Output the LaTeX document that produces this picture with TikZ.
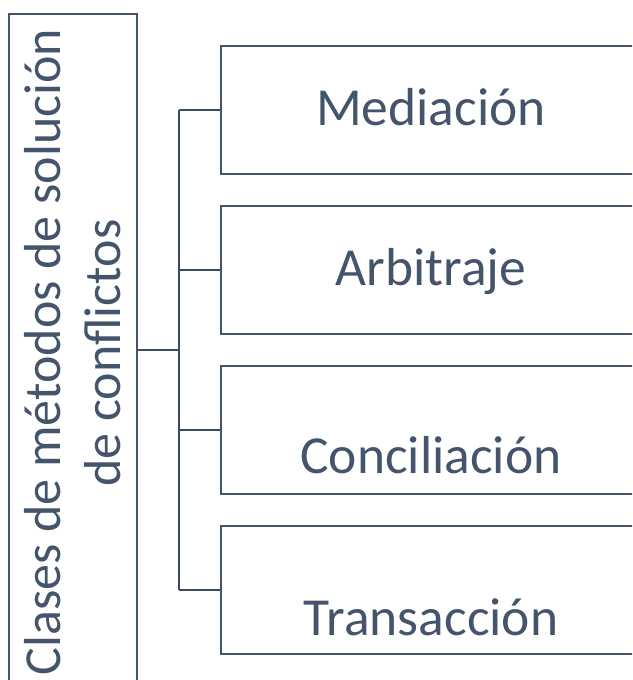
\documentclass[tikz,border=0pt]{standalone}
\usepackage{fontspec}
\setmainfont{Carlito}
\definecolor{slate}{HTML}{44546A}
\definecolor{slatedark}{HTML}{3A4A5F}
\tikzset{
  box/.style={draw=slate, line width=2pt, fill=none, inner sep=0pt},
  lbl/.style={text=slate, font=\fontsize{53.5}{60}\selectfont, inner sep=0pt, anchor=base},
  side/.style={text=slate, font=\fontsize{52}{60}\selectfont, inner sep=0pt, anchor=base, rotate=90},
  conn/.style={draw=slatedark, line width=2pt}
}
\begin{document}
\begin{tikzpicture}[x=1pt,y=-1pt]
\useasboundingbox (0,0) rectangle (632,680);
\clip (0,0) rectangle (632,680);
\node[box, minimum width=128pt, minimum height=686pt] (cls) at (73,357) {};
\node[box, minimum width=420pt, minimum height=128pt] (med) at (431,110) {};
\node[box, minimum width=420pt, minimum height=128pt] (arb) at (431,270) {};
\node[box, minimum width=420pt, minimum height=128pt] (con) at (431,430) {};
\node[box, minimum width=420pt, minimum height=128pt] (tra) at (431,590) {};
\node[side] (l1) at (60,352) {Clases de métodos de solución};
\node[side] (l2) at (120,353) {de conflictos};
\node[lbl] (tmed) at (431,125) {Mediación};
\node[lbl] (tarb) at (431,285) {Arbitraje};
\node[lbl] (tcon) at (431,473) {Conciliación};
\node[lbl] (ttra) at (431,635) {Transacción};
\coordinate (hub) at (179,350);
\draw[conn] (cls.east |- hub) -- (hub);
\draw[conn] (hub |- med.west) -- (hub |- tra.west);
\draw[conn] (hub |- med.west) -- (med.west);
\draw[conn] (hub |- arb.west) -- (arb.west);
\draw[conn] (hub |- con.west) -- (con.west);
\draw[conn] (hub |- tra.west) -- (tra.west);
\end{tikzpicture}
\end{document}
